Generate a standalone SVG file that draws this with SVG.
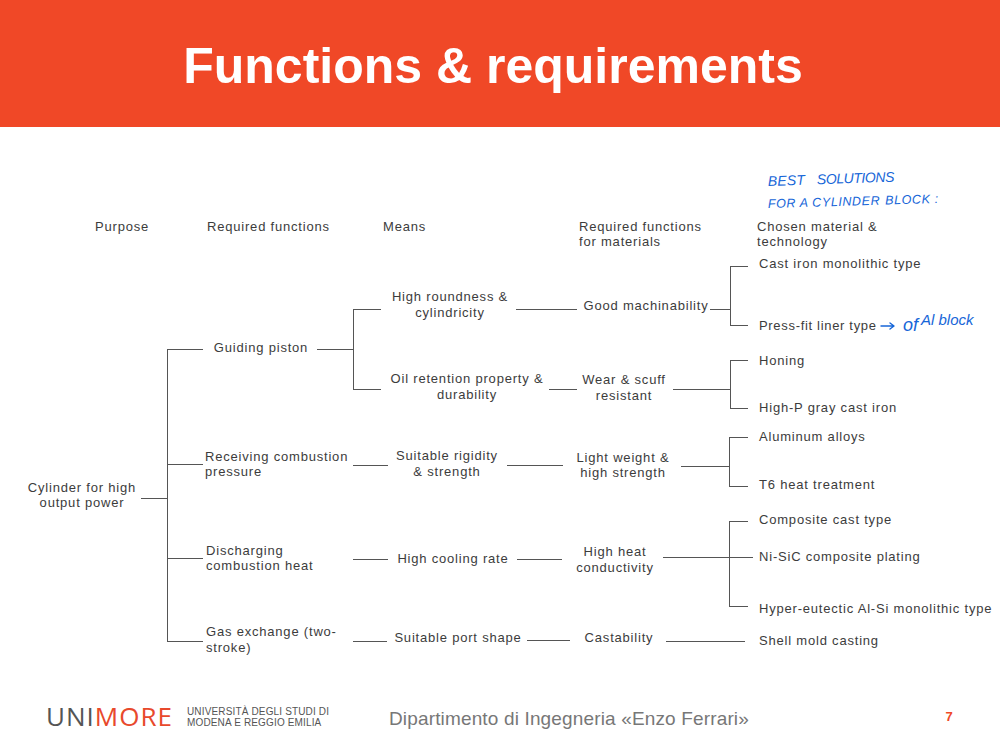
<svg xmlns="http://www.w3.org/2000/svg" width="1000" height="750" viewBox="0 0 1000 750">
<style>
.t{font-family:"Liberation Sans",Arial,sans-serif;font-size:13px;letter-spacing:.8px;fill:#3c3c3c}
.m{text-anchor:middle}
.c path{fill:none;stroke:#555;stroke-width:1;shape-rendering:crispEdges}
.h{fill:none;stroke:#1766d8;stroke-width:1.4;stroke-linecap:round;stroke-linejoin:round}
.b{font-family:"Liberation Sans",Arial,sans-serif;fill:#1766d8;font-style:italic}
.u{font-family:"Liberation Sans",Arial,sans-serif;font-size:10px;letter-spacing:.15px;fill:#555}
</style>
<rect width="1000" height="127" fill="#f04827"/>
<text x="493" y="83" text-anchor="middle" font-family="Liberation Sans,Arial,sans-serif" font-weight="bold" font-size="50" fill="#fff">Functions &amp; requirements</text>
<g id="headers">
<text class="t" x="95" y="231">Purpose</text>
<text class="t" x="207" y="231">Required functions</text>
<text class="t" x="383" y="231">Means</text>
<text class="t" x="579" y="231">Required functions</text>
<text class="t" x="579" y="246">for materials</text>
<text class="t" x="757" y="231">Chosen material &amp;</text>
<text class="t" x="757" y="246">technology</text>
</g>
<g class="c" id="connectors">
<path d="M141 498H167M167 349V641M167 349H203M167 464H203M167 558H203M167 641H203"/>
<path d="M317 349H353M353 309V389M353 309H381M353 389H381"/>
<path d="M516 309H577M549 389H577M353 465H388M507 465H563M353 559H388M517 559H562M353 641H387M527 640H570"/>
<path d="M710 309H730M730 266V325M730 266H748M730 325H748"/>
<path d="M673 389H730M730 360V408M730 360H748M730 408H748"/>
<path d="M681 466H729M729 437V486M729 437H748M729 486H748"/>
<path d="M663 557H753M729 521V606M729 521H748M729 606H748"/>
<path d="M666 641H745"/>
</g>
<g id="n-purpose"><text class="t m" x="82" y="492">Cylinder for high</text><text class="t m" x="82" y="507">output power</text></g>
<g id="f1"><text class="t m" x="261" y="352">Guiding piston</text></g>
<g id="f2"><text class="t" x="205" y="461">Receiving combustion</text><text class="t" x="205" y="476">pressure</text></g>
<g id="f3"><text class="t" x="206" y="555">Discharging</text><text class="t" x="206" y="570">combustion heat</text></g>
<g id="f4"><text class="t" x="206" y="636">Gas exchange (two-</text><text class="t" x="206" y="652">stroke)</text></g>
<g id="m1"><text class="t m" x="450" y="301">High roundness &amp;</text><text class="t m" x="450" y="317">cylindricity</text></g>
<g id="m2"><text class="t m" x="467" y="383">Oil retention property &amp;</text><text class="t m" x="467" y="399">durability</text></g>
<g id="m3"><text class="t m" x="447" y="460">Suitable rigidity</text><text class="t m" x="447" y="476">&amp; strength</text></g>
<g id="m4"><text class="t m" x="453" y="563">High cooling rate</text></g>
<g id="m5"><text class="t m" x="458" y="642">Suitable port shape</text></g>
<g id="r1"><text class="t m" x="646" y="310">Good machinability</text></g>
<g id="r2"><text class="t m" x="624" y="384">Wear &amp; scuff</text><text class="t m" x="624" y="400">resistant</text></g>
<g id="r3"><text class="t m" x="623" y="462">Light weight &amp;</text><text class="t m" x="623" y="477">high strength</text></g>
<g id="r4"><text class="t m" x="615" y="556">High heat</text><text class="t m" x="615" y="572">conductivity</text></g>
<g id="r5"><text class="t m" x="619" y="642">Castability</text></g>
<g id="s1"><text class="t" x="759" y="268">Cast iron monolithic type</text></g>
<g id="s2"><text class="t" x="759" y="330" style="letter-spacing:.68px">Press-fit liner type</text></g>
<g id="s3"><text class="t" x="759" y="365">Honing</text></g>
<g id="s4"><text class="t" x="759" y="412">High-P gray cast iron</text></g>
<g id="s5"><text class="t" x="759" y="441">Aluminum alloys</text></g>
<g id="s6"><text class="t" x="759" y="489">T6 heat treatment</text></g>
<g id="s7"><text class="t" x="759" y="524">Composite cast type</text></g>
<g id="s8"><text class="t" x="759" y="561">Ni-SiC composite plating</text></g>
<g id="s9"><text class="t" x="759" y="613">Hyper-eutectic Al-Si monolithic type</text></g>
<g id="s10"><text class="t" x="759" y="645">Shell mold casting</text></g>
<g id="annotation">
<text class="b" transform="rotate(-2 768 186)" x="768" y="186" font-size="14" letter-spacing=".2">BEST<tspan x="817" letter-spacing="-.4">SOLUTIONS</tspan></text>
<text class="b" transform="rotate(-1.7 768 208)" x="768" y="208" font-size="12.5" letter-spacing=".6">FOR A CYLINDER<tspan dx="5">BLOCK :</tspan></text>
<path class="h" d="M881 326H894M890 323L894 326L890 329"/>
<text class="b" x="903" y="331" font-size="18">of</text>
<text class="b" x="921" y="325" font-size="15">Al block</text>
</g>
<g id="footer">
<text x="46" y="726" font-family="Open Sans,Liberation Sans,sans-serif" font-size="26" fill="#555" letter-spacing="1">UNI<tspan fill="#e8492c">MORE</tspan></text>
<text class="u" x="187" y="714.5">UNIVERSITÀ DEGLI STUDI DI</text>
<text class="u" x="187" y="726">MODENA E REGGIO EMILIA</text>
<text x="389" y="725" font-family="Liberation Sans,Arial,sans-serif" font-size="19" letter-spacing=".15" fill="#777">Dipartimento di Ingegneria «Enzo Ferrari»</text>
<text x="949" y="721" text-anchor="middle" font-family="Liberation Sans,Arial,sans-serif" font-weight="bold" font-size="13" fill="#f04827">7</text>
</g>
</svg>
